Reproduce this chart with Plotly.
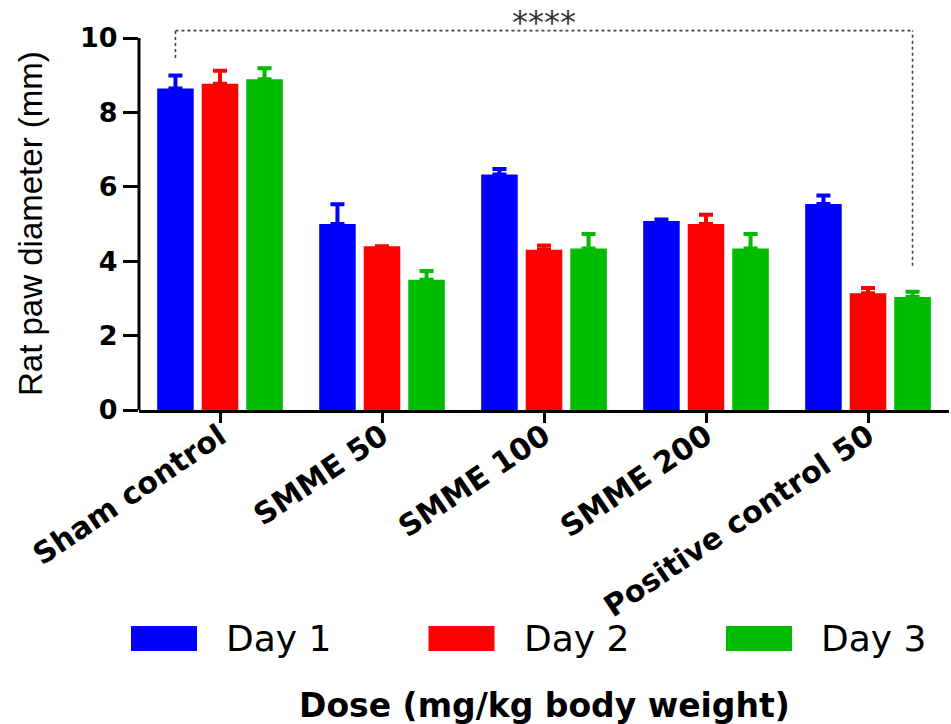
import plotly.graph_objects as go

# ---------------- data ----------------
categories = ["Sham control", "SMME 50", "SMME 100", "SMME 200", "Positive control 50"]
series_names = ["Day 1", "Day 2", "Day 3"]
day1 = [8.64, 5.00, 6.33, 5.08, 5.54]
day2 = [8.77, 4.40, 4.31, 5.00, 3.14]
day3 = [8.89, 3.50, 4.34, 4.34, 3.04]
day1_err = [0.35, 0.53, 0.15, 0.04, 0.23]
day2_err = [0.35, 0.00, 0.11, 0.25, 0.14]
day3_err = [0.30, 0.24, 0.39, 0.39, 0.14]
y_ticks = [0, 2, 4, 6, 8, 10]
signif_label = "****"

# ---------------- style ----------------
colors = ["#0000FF", "#FF0000", "#00BB00"]
FONT = "DejaVu Sans"
W, H = 951, 724
ML, MR, MT, MB = 139, 2, 12, 314
Y_MAX = 10.7
BAR_SLOT = 0.275  # offset between bars inside a group (category units)

values = [day1, day2, day3]
errors = [day1_err, day2_err, day3_err]

fig = go.Figure()
for name, vals, errs, col in zip(series_names, values, errors, colors):
    fig.add_trace(go.Bar(
        name=name, x=categories, y=vals,
        marker=dict(color=col, line=dict(width=0)),
        error_y=dict(type="data", symmetric=False, array=errs,
                     arrayminus=[0] * len(errs), color=col,
                     thickness=4, width=7),
        showlegend=False,
    ))

fig.update_layout(
    width=W, height=H, autosize=False,
    margin=dict(l=ML, r=MR, t=MT, b=MB, pad=0),
    paper_bgcolor="white", plot_bgcolor="white",
    barmode="group", bargap=0.175, bargroupgap=0.18,
    font=dict(family=FONT, color="black"),
    xaxis=dict(
        showline=True, linecolor="black", linewidth=3,
        ticks="outside", ticklen=10, tickwidth=3, tickcolor="black",
        tickangle=-34, showgrid=False, zeroline=False,
        ticklabelstandoff=-16,
        tickfont=dict(family=FONT, size=30, weight="bold", color="black"),
        range=[-0.5, 4.5],
    ),
    yaxis=dict(
        range=[0, Y_MAX], tickvals=y_ticks, ticktext=[str(v) for v in y_ticks],
        showline=False, showgrid=False, zeroline=False,
        ticks="outside", ticklen=15, tickwidth=3, tickcolor="black",
        tickfont=dict(family=FONT, size=27, weight="bold", color="black"),
    ),
)

# y axis line from 0 to 10 (paper coordinates)
top_tick = max(y_ticks)
fig.add_shape(type="line", xref="paper", yref="paper", x0=0, x1=0,
              y0=0, y1=top_tick / Y_MAX, line=dict(color="black", width=3))

# significance bracket between Sham Day 1 and Positive control Day 3
n = len(categories)
left_x = 0 - BAR_SLOT
right_x = (n - 1) + BAR_SLOT
bracket_y = 10.2
left_bottom = day1[0] + day1_err[0] + 0.47
right_bottom = day3[-1] + day3_err[-1] + 0.7
dash_line = dict(color="#444444", width=1.6, dash="dot")
fig.add_shape(type="line", xref="x", yref="y", x0=left_x, x1=left_x,
              y0=left_bottom, y1=bracket_y, line=dash_line)
fig.add_shape(type="line", xref="x", yref="y", x0=left_x, x1=right_x,
              y0=bracket_y, y1=bracket_y, line=dash_line)
fig.add_shape(type="line", xref="x", yref="y", x0=right_x, x1=right_x,
              y0=right_bottom, y1=bracket_y, line=dash_line)
fig.add_annotation(x=(left_x + right_x) / 2, y=bracket_y, xref="x", yref="y",
                   text=signif_label, showarrow=False, yanchor="bottom",
                   yshift=-12, font=dict(family=FONT, size=32, color="#333333"))

# pixel -> paper helpers
plot_w = W - ML - MR
plot_h = H - MT - MB
def px_x(px):
    return (px - ML) / plot_w
def px_y(py):
    return (H - MB - py) / plot_h

# y axis title (centred on the 0-10 axis)
fig.add_annotation(xref="paper", yref="paper", x=px_x(30), y=px_y(224),
                   xanchor="center", yanchor="middle", showarrow=False,
                   textangle=-90, text="Rat paw diameter (mm)",
                   font=dict(family="Liberation Sans", size=33, color="black"))

# manual legend with large swatches
sw_left0, sw_step, sw_w = 131, 297.5, 66
sw_top, sw_bot = 626, 651
for i, (name, col) in enumerate(zip(series_names, colors)):
    x0 = sw_left0 + i * sw_step
    fig.add_shape(type="rect", xref="paper", yref="paper",
                  x0=px_x(x0), x1=px_x(x0 + sw_w),
                  y0=px_y(sw_bot), y1=px_y(sw_top),
                  fillcolor=col, line=dict(width=0))
    fig.add_annotation(xref="paper", yref="paper", x=px_x(x0 + sw_w + 27),
                       y=px_y((sw_top + sw_bot) / 2), xanchor="left",
                       yanchor="middle", showarrow=False, text=name,
                       font=dict(family=FONT, size=36, color="black"))

# x axis title
fig.add_annotation(xref="paper", yref="paper", x=px_x(544), y=px_y(705),
                   xanchor="center", yanchor="middle", showarrow=False,
                   text="Dose (mg/kg body weight)",
                   font=dict(family=FONT, size=33, weight="bold", color="black"))

fig.write_html(
    "out.html",
    config={"displayModeBar": False},
    post_script="document.body.style.margin='0';document.body.style.padding='0';",
)
